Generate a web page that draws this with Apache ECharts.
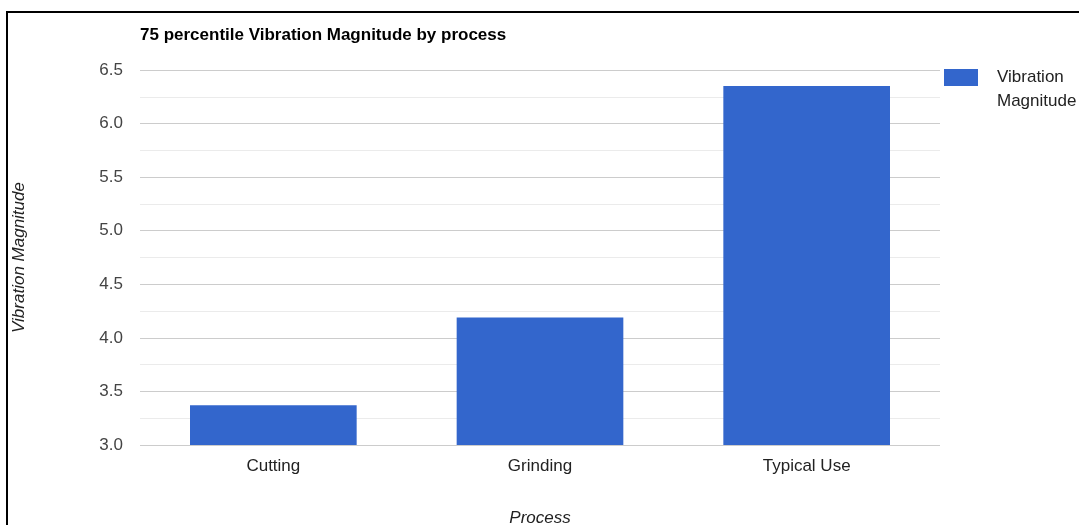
<!DOCTYPE html>
<html><head><meta charset="utf-8">
<script src="https://cdn.jsdelivr.net/npm/echarts@6/dist/echarts.min.js"></script>
<style>
html,body{margin:0;padding:0;background:#fff;}
#frame{position:absolute;left:6px;top:11px;width:1200px;height:600px;border-top:2px solid #000;border-left:2px solid #000;}
#c{position:absolute;left:0;top:0;width:1079px;height:525px;}
</style></head>
<body>
<div id="frame"></div>
<div id="c"></div>
<script>
const categories = ['Cutting', 'Grinding', 'Typical Use'];
const seriesName = 'Vibration Magnitude';
const legendLines = ['Vibration', 'Magnitude'];
const values = [3.37, 4.19, 6.35];
const titleText = '75 percentile Vibration Magnitude by process';

const chart = echarts.init(document.getElementById('c'), null, {renderer: 'canvas'});
const font = '"Liberation Sans", Arial, sans-serif';
chart.setOption({
  animation: false,
  title: {
    text: titleText, left: 135, top: 22,
    textStyle: {fontFamily: font, fontSize: 17, fontWeight: 'bold', color: '#000'}
  },
  legend: {
    left: 944, top: 69, orient: 'vertical', padding: 0,
    itemWidth: 34, itemHeight: 17,
    icon: 'rect',
    formatter: () => '{t|' + legendLines[0] + '}',
    textStyle: {fontFamily: font, fontSize: 17, color: '#222',
      rich: {t: {fontFamily: font, fontSize: 17, color: '#222', padding: [0, 0, 0, 14]}}}
  },
  graphic: [{
    type: 'text', left: 997, top: 93,
    style: {text: legendLines[1], font: '17px ' + font, fill: '#222'}
  }],
  grid: {left: 140, right: 139, top: 70, bottom: 80, containLabel: false, outerBoundsMode: 'none'},
  xAxis: {
    type: 'category', data: categories,
    name: 'Process', nameLocation: 'middle', nameGap: 65,
    nameTextStyle: {fontFamily: font, fontSize: 17, fontStyle: 'italic', color: '#222'},
    axisLine: {show: false}, axisTick: {show: false},
    axisLabel: {fontFamily: font, fontSize: 17, color: '#222', margin: 13}
  },
  yAxis: {
    type: 'value', min: 3.0, max: 6.5, interval: 0.5,
    name: 'Vibration Magnitude', nameLocation: 'middle', nameGap: 112, nameRotate: 90,
    nameTextStyle: {fontFamily: font, fontSize: 17, fontStyle: 'italic', color: '#222'},
    axisLine: {show: false}, axisTick: {show: false},
    axisLabel: {fontFamily: font, fontSize: 17, color: '#444', margin: 17, formatter: v => v.toFixed(1)},
    splitLine: {lineStyle: {color: '#cccccc', width: 1}},
    minorTick: {show: false, splitNumber: 2},
    minorSplitLine: {show: true, lineStyle: {color: '#ebebeb', width: 1}}
  },
  series: [{
    name: seriesName, type: 'bar', data: values,
    barWidth: '62.5%',
    itemStyle: {color: '#3366cc'}
  }]
});
</script>
</body></html>
